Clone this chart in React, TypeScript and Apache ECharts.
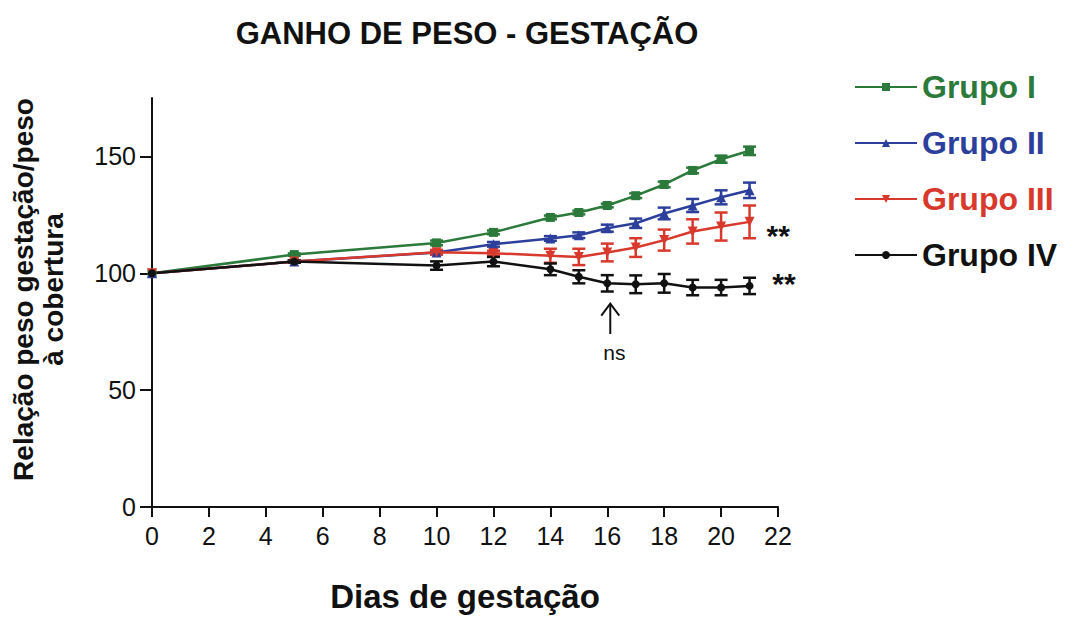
import React, { useEffect, useRef } from "react";
import * as echarts from "echarts";

const days = [0, 5, 10, 12, 14, 15, 16, 17, 18, 19, 20, 21];
const groupNames = ["Grupo I", "Grupo II", "Grupo III", "Grupo IV"];
const grupoI = [100, 108, 113, 117.5, 123.9, 126, 129, 133.2, 138, 144, 148.8, 152.4];
const grupoII = [100, 105, 108.9, 112.4, 114.9, 116.3, 119.3, 121.4, 125.6, 129, 132.5, 135.5];
const grupoIII = [100, 105, 109, 108.6, 107.5, 107, 108.9, 111, 114.2, 117.9, 120, 122];
const grupoIV = [100, 105, 103.3, 105, 101.7, 98.5, 95.7, 95.3, 95.7, 93.9, 93.9, 94.6];
const errI = [0, 0.5, 1, 0.8, 0.8, 0.8, 0.8, 1, 1.2, 1.2, 1.5, 1.8];
const errII = [0, 0.5, 0.8, 1, 1, 1.2, 1.5, 2, 2.5, 2.8, 3, 3.3];
const errIII = [0, 0.5, 1, 1, 3, 3.5, 3.8, 4, 4.5, 5.2, 6, 7];
const errIV = [0, 0.5, 1.8, 2, 2.5, 2.8, 3.5, 3.8, 4, 3.3, 3.3, 3.5];
const yTicks = [0, 50, 100, 150];
// annotations: [x, y, text]
const starLabels: [number, number, string][] = [
  [21.6, 116.1, "**"],
  [21.8, 95.7, "**"],
];
const arrowData = [[16, 74, 87]];
const nsLabel: [number, number, string][] = [[16.25, 66, "ns"]];

const colors = ["#2b7a3b", "#2c3f9c", "#d8392c", "#111111"];
const symbols = ["rect", "triangle", "triangle", "circle"];
const symbolRotates = [0, 0, 180, 0];
const symbolSizes = [9, 10, 10, 8];
const values = [grupoI, grupoII, grupoIII, grupoIV];
const errs = [errI, errII, errIII, errIV];
const FONT = "'Liberation Sans', Arial, Helvetica, sans-serif";

export default function App() {
  const ref = useRef<HTMLDivElement>(null);
  useEffect(() => {
    if (!ref.current) return;
    const chart = echarts.init(ref.current, undefined, { renderer: "svg" });

    const errSeries = values.map((vals, gi) => ({
      type: "custom",
      name: "err" + gi,
      clip: false,
      z: 3,
      data: days.map((d, i) => [d, vals[i] - errs[gi][i], vals[i] + errs[gi][i]]),
      renderItem: (params: any, api: any) => {
        const x = api.value(0);
        const lo = api.value(1);
        const hi = api.value(2);
        if (hi - lo < 0.01) return null;
        const t = api.coord([x, hi]);
        const b = api.coord([x, lo]);
        const w = 6.5;
        const st = { stroke: colors[gi], lineWidth: 2.5 };
        return {
          type: "group",
          children: [
            { type: "line", shape: { x1: t[0], y1: t[1], x2: b[0], y2: b[1] }, style: st },
            { type: "line", shape: { x1: t[0] - w, y1: t[1], x2: t[0] + w, y2: t[1] }, style: st },
            { type: "line", shape: { x1: b[0] - w, y1: b[1], x2: b[0] + w, y2: b[1] }, style: st },
          ],
        };
      },
    }));

    const lineSeries = values.map((vals, gi) => ({
      type: "line",
      name: groupNames[gi],
      z: 4,
      data: days.map((d, i) => [d, vals[i]]),
      symbol: symbols[gi],
      symbolRotate: symbolRotates[gi],
      symbolSize: symbolSizes[gi],
      showAllSymbol: true,
      lineStyle: { color: colors[gi], width: 2.5 },
      itemStyle: { color: colors[gi] },
    }));

    const annotSeries = [
      {
        type: "custom",
        name: "stars",
        clip: false,
        z: 5,
        data: starLabels,
        renderItem: (params: any, api: any) => {
          const p = api.coord([api.value(0), api.value(1)]);
          return {
            type: "text",
            style: {
              text: starLabels[params.dataIndex][2],
              x: p[0],
              y: p[1],
              align: "left",
              verticalAlign: "middle",
              fontSize: 30,
              fontWeight: "bold",
              fontFamily: FONT,
              fill: "#111",
            },
          };
        },
      },
      {
        type: "custom",
        name: "nsText",
        clip: false,
        z: 5,
        data: nsLabel,
        renderItem: (params: any, api: any) => {
          const p = api.coord([api.value(0), api.value(1)]);
          return {
            type: "text",
            style: {
              text: nsLabel[params.dataIndex][2],
              x: p[0],
              y: p[1],
              align: "center",
              verticalAlign: "middle",
              fontSize: 21,
              fontFamily: FONT,
              fill: "#111",
            },
          };
        },
      },
      {
        type: "custom",
        name: "arrow",
        clip: false,
        z: 5,
        data: arrowData,
        renderItem: (params: any, api: any) => {
          const b = api.coord([api.value(0), api.value(1)]);
          const t = api.coord([api.value(0), api.value(2)]);
          const st = { stroke: "#111", lineWidth: 2, fill: "none" };
          return {
            type: "group",
            children: [
              { type: "line", shape: { x1: b[0] + 3, y1: b[1], x2: t[0] + 3, y2: t[1] }, style: st },
              {
                type: "polyline",
                shape: { points: [[t[0] - 6, t[1] + 12], [t[0] + 3, t[1]], [t[0] + 12, t[1] + 12]] },
                style: st,
              },
            ],
          };
        },
      },
    ];

    chart.setOption({
      animation: false,
      backgroundColor: "#ffffff",
      textStyle: { fontFamily: FONT },
      title: {
        text: "GANHO DE PESO - GESTAÇÃO",
        left: 462,
        top: 13,
        textAlign: "center",
        textStyle: { fontSize: 31, fontWeight: "bold", color: "#111", fontFamily: FONT },
      },
      legend: {
        orient: "vertical",
        left: 849,
        top: 65,
        itemWidth: 62,
        itemHeight: 10,
        itemGap: 22,
        data: groupNames.map((n, i) => ({
          name: n,
          textStyle: { color: colors[i], fontSize: 32, fontWeight: "bold", lineHeight: 34, fontFamily: FONT },
        })),
      },
      grid: { left: 150, right: 296, top: 98, bottom: 100, containLabel: false },
      xAxis: {
        type: "value",
        min: 0,
        max: 22,
        interval: 2,
        splitLine: { show: false },
        axisLine: { lineStyle: { color: "#111", width: 2 } },
        axisTick: { length: 10, lineStyle: { color: "#111", width: 2 } },
        axisLabel: { fontSize: 25, color: "#111", margin: 16, fontFamily: FONT },
        name: "Dias de gestação",
        nameLocation: "middle",
        nameGap: 73,
        nameTextStyle: { fontSize: 33, fontWeight: "bold", color: "#111", fontFamily: FONT },
      },
      yAxis: {
        type: "value",
        min: 0,
        max: 175,
        splitLine: { show: false },
        axisLine: { show: true, lineStyle: { color: "#111", width: 2 } },
        axisTick: { show: true, length: 12, customValues: yTicks, lineStyle: { color: "#111", width: 2 } },
        axisLabel: { fontSize: 25, color: "#111", margin: 16, customValues: yTicks, fontFamily: FONT },
        name: "Relação peso gestação/peso\nà cobertura",
        nameLocation: "middle",
        nameRotate: 90,
        nameGap: 84,
        nameTextStyle: {
          fontSize: 28,
          fontWeight: "bold",
          color: "#111",
          lineHeight: 30,
          align: "center",
          padding: [0, 0, 0, 26],
          fontFamily: FONT,
        },
      },
      series: [...errSeries, ...lineSeries, ...annotSeries],
    });
    return () => chart.dispose();
  }, []);
  return <div ref={ref} style={{ width: 1074, height: 618, position: "absolute", left: 0, top: 0 }} />;
}
